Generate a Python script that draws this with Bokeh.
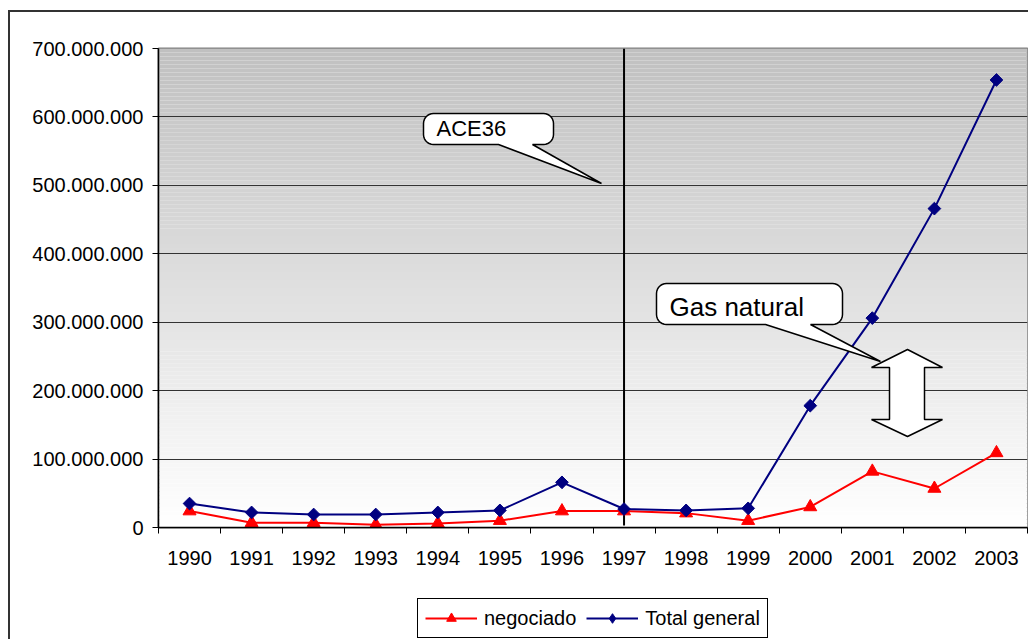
import numpy as np
from bokeh.plotting import figure
from bokeh.layouts import column
from bokeh.models import (FixedTicker, Range1d, Legend, LegendItem)
from bokeh.core.properties import value
from bokeh.embed import file_html
from bokeh.resources import INLINE

# ---------------- data ----------------
years = ["1990", "1991", "1992", "1993", "1994", "1995", "1996",
         "1997", "1998", "1999", "2000", "2001", "2002", "2003"]
negociado = [24e6, 7e6, 7e6, 4e6, 6e6, 10e6, 24e6,
             24e6, 21e6, 10e6, 30e6, 82e6, 57e6, 109e6]
total_general = [35e6, 22e6, 19e6, 19e6, 22e6, 25e6, 66e6,
                 27e6, 25e6, 28e6, 178e6, 306e6, 466e6, 654e6]
y_ticks = [0, 100e6, 200e6, 300e6, 400e6, 500e6, 600e6, 700e6]
marker_year = "1997"
callout1_text = "ACE36"
callout2_text = "Gas natural"
series_names = ["negociado", "Total general"]

FONT = "Liberation Sans"
RED, NAVY = "#ff0000", "#000080"

# ---------------- main figure ----------------
FW, FH = 869, 479
YMAX = 700e6
p = figure(output_backend="svg", toolbar_location=None,
           x_range=Range1d(0, len(years)), y_range=Range1d(0, YMAX),
           frame_width=FW, frame_height=FH,
           min_border_left=148, min_border_top=36, min_border_right=1,
           min_border_bottom=50,
           background_fill_color="white", border_fill_color="white",
           outline_line_color="#808080", outline_line_width=2)

# ---- gradient background (light gray -> white) ----
n_strips = 120
edges = np.linspace(0, YMAX, n_strips + 1)
cols = []
for i in range(n_strips):
    t = (edges[i] + edges[i + 1]) / 2 / YMAX
    c = int(round(255 - t * (255 - 192)))
    cols.append("#%02x%02x%02x" % (c, c, c))
p.quad(left=0, right=len(years), bottom=edges[:-1], top=edges[1:],
       fill_color=cols, line_color=None, level="underlay")

# ---- axes ----
xc = [i + 0.5 for i in range(len(years))]
p.xaxis.ticker = FixedTicker(ticks=xc, minor_ticks=list(range(len(years) + 1)))
p.xaxis.major_label_overrides = {x: y for x, y in zip(xc, years)}
p.xaxis.major_tick_line_color = None
p.xaxis.minor_tick_line_color = "black"
p.xaxis.minor_tick_out = 6
p.xaxis.minor_tick_in = 0
p.xaxis.major_label_standoff = 17
p.yaxis.ticker = FixedTicker(ticks=y_ticks)
p.yaxis.major_label_overrides = {v: f"{int(v):,}".replace(",", ".") for v in y_ticks}
p.yaxis.minor_tick_line_color = None
p.yaxis.major_tick_out = 6
p.yaxis.major_tick_in = 0
p.yaxis.major_label_standoff = 9
for ax in (p.xaxis, p.yaxis):
    ax.major_label_text_font = FONT
    ax.major_label_text_font_size = "20px"
    ax.major_label_text_color = "black"
    ax.axis_line_color = "black"
    ax.axis_line_width = 1.5
p.xgrid.grid_line_color = None
p.ygrid.ticker = FixedTicker(ticks=y_ticks[1:])
p.ygrid.grid_line_color = "#333333"
p.ygrid.grid_line_width = 1
p.ygrid.level = "underlay"

# ---- helpers: screen px (relative to frame top-left) -> data ----
sx = len(years) / FW
sy = YMAX / FH
def X(px):
    return px * sx
def Y(py):
    return (FH - py) * sy

def callout(x0, y0, x1, y1, r, tb1, tb2, tip):
    pts = []
    def arc(cx, cy, a0, a1):
        for a in np.linspace(a0, a1, 8):
            pts.append((cx + r * np.cos(a), cy + r * np.sin(a)))
    arc(x0 + r, y0 + r, np.pi, 1.5 * np.pi)
    arc(x1 - r, y0 + r, 1.5 * np.pi, 2 * np.pi)
    arc(x1 - r, y1 - r, 0, 0.5 * np.pi)
    pts.append((tb2, y1)); pts.append(tip); pts.append((tb1, y1))
    arc(x0 + r, y1 - r, 0.5 * np.pi, np.pi)
    return [X(a) for a, b in pts], [Y(b) for a, b in pts]

# ---- vertical marker line at 1997 ----
ix = years.index(marker_year) + 0.5
p.segment(x0=[ix], y0=[Y(FH - 2)], x1=[ix], y1=[YMAX], line_color="black", line_width=2)

# ---- series ----
p.line(xc, negociado, line_color=RED, line_width=2)
p.scatter(xc, negociado, marker="triangle", size=13, fill_color=RED, line_color=RED)
p.line(xc, total_general, line_color=NAVY, line_width=2)
p.scatter(xc, total_general, marker="square", angle=np.pi / 4, size=9,
          fill_color=NAVY, line_color=NAVY)

# ---- callouts ----
cx, cy = callout(265, 65, 395, 96, 10, 340, 374, (443, 135))
p.patch(cx, cy, fill_color="white", line_color="black", line_width=1.5)
p.text([X(278)], [Y(80)], text=[callout1_text], text_font=value(FONT),
       text_font_size="22px", text_baseline="alphabetic", text_color="black")

cx, cy = callout(498, 235, 684, 276, 10, 607, 652, (722, 313))
p.patch(cx, cy, fill_color="white", line_color="black", line_width=1.5)
p.text([X(511)], [Y(258)], text=[callout2_text], text_font=value(FONT),
       text_font_size="26px", text_baseline="alphabetic", text_color="black")

# ---- double block arrow ----
ax_pts = [(749, 301), (784, 319), (766, 319), (766, 371), (784, 371), (749, 388),
          (713, 371), (731, 371), (731, 319), (713, 319)]
p.patch([X(a) for a, b in ax_pts], [Y(b) for a, b in ax_pts],
        fill_color="white", line_color="black", line_width=1.5)

# ---------------- legend strip ----------------
LW, LH = 1018, 62
q = figure(output_backend="svg", toolbar_location=None,
           frame_width=LW, frame_height=LH,
           x_range=Range1d(0, 1), y_range=Range1d(0, 1),
           x_axis_location=None, y_axis_location=None,
           min_border=0, outline_line_color=None,
           background_fill_color="white", border_fill_color="white")
q.xgrid.grid_line_color = None
q.ygrid.grid_line_color = None
# legend-only renderers: one point placed outside the visible strip
off = [-5.0]
l1 = q.line(x=off, y=off, line_color=RED, line_width=2)
s1 = q.scatter(x=off, y=off, marker="triangle", size=13, fill_color=RED, line_color=RED)
l2 = q.line(x=off, y=off, line_color=NAVY, line_width=2)
s2 = q.scatter(x=off, y=off, marker="diamond", size=14, fill_color=NAVY, line_color=NAVY)
legend = Legend(items=[LegendItem(label=series_names[0], renderers=[l1, s1]),
                       LegendItem(label=series_names[1], renderers=[l2, s2])],
                orientation="horizontal", location=(407, 1),
                label_text_font=FONT, label_text_font_size="20px",
                label_text_color="black",
                glyph_width=52, glyph_height=24, label_height=24, label_standoff=7,
                spacing=10, padding=7, margin=0,
                border_line_color="black", border_line_width=1, border_line_alpha=1,
                background_fill_alpha=1, background_fill_color="white")
q.add_layout(legend, "center")

layout = column(p, q, spacing=0,
                styles={"border-left": "2px solid #333333", "border-top": "2px solid #333333",
                        "margin-top": "10px", "margin-left": "8px"})

open("out.html", "w").write(file_html(layout, INLINE))
